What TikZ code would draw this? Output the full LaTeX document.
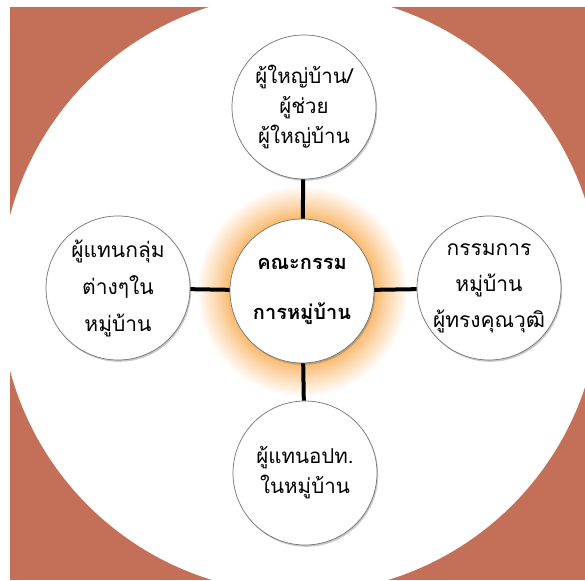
\documentclass[tikz,border=0pt]{standalone}
\usepackage{fontspec}
\newfontfamily\thaifont[Script=Thai]{Loma}
\usetikzlibrary{positioning, shadows}

\definecolor{backbrown}{RGB}{196,111,87}
\definecolor{glowcol}{RGB}{250,185,110}
\definecolor{ringgray}{RGB}{115,115,115}
\pgfdeclareradialshading{glow}{\pgfpoint{0bp}{0bp}}{color(0bp)=(glowcol); color(17bp)=(glowcol); color(20bp)=(glowcol!60!white); color(25bp)=(white); color(50bp)=(white)}

\begin{document}
\begin{tikzpicture}[x=1pt, y=-1pt,
    member/.style={circle, draw=ringgray, line width=0.7pt, fill=white, minimum size=144pt, align=center, inner sep=0pt,
      drop shadow={shadow xshift=1.2pt, shadow yshift=-1.8pt, opacity=0.35, fill=black!60},
      font=\thaifont\fontsize{20.5}{30}\selectfont},
    core/.style={member, font=\thaifont\bfseries\fontsize{20}{50}\selectfont},
    link/.style={line width=4pt, black}]
  % Hintergrund
  \useasboundingbox (0,0) rectangle (585,580);
  \fill[white] (0,0) rectangle (585,580);
  \fill[backbrown] (10,7) rectangle (585,580);
  \begin{scope}
    \clip (0,0) rectangle (585,580);
    \fill[white] (300,293) circle (300);
  \end{scope}

  % Schein um die Mitte
  \shade[shading=glow] (302,291) circle (106);

  % Kreise
  \node[core] (board) at (302,291) {คณะกรรม\\การหมู่บ้าน};
  \node[member] (head) at (304,107) {ผู้ใหญ่บ้าน/\\ผู้ช่วย\\ผู้ใหญ่บ้าน};
  \node[member, font=\thaifont\fontsize{21}{37}\selectfont] (groups) at (118,288) {ผู้แทนกลุ่ม\\ต่างๆใน\\หมู่บ้าน};
  \node[member, font=\thaifont\fontsize{21}{36}\selectfont] (experts) at (489,288) {กรรมการ\\หมู่บ้าน\\ผู้ทรงคุณวุฒิ};
  \node[member] (tao) at (305,473) {ผู้แทนอปท.\\ในหมู่บ้าน};

  % Verbindungen
  \foreach \n in {head, groups, experts, tao} {
      \draw[link] (\n) -- (board);
  }
\end{tikzpicture}
\end{document}
